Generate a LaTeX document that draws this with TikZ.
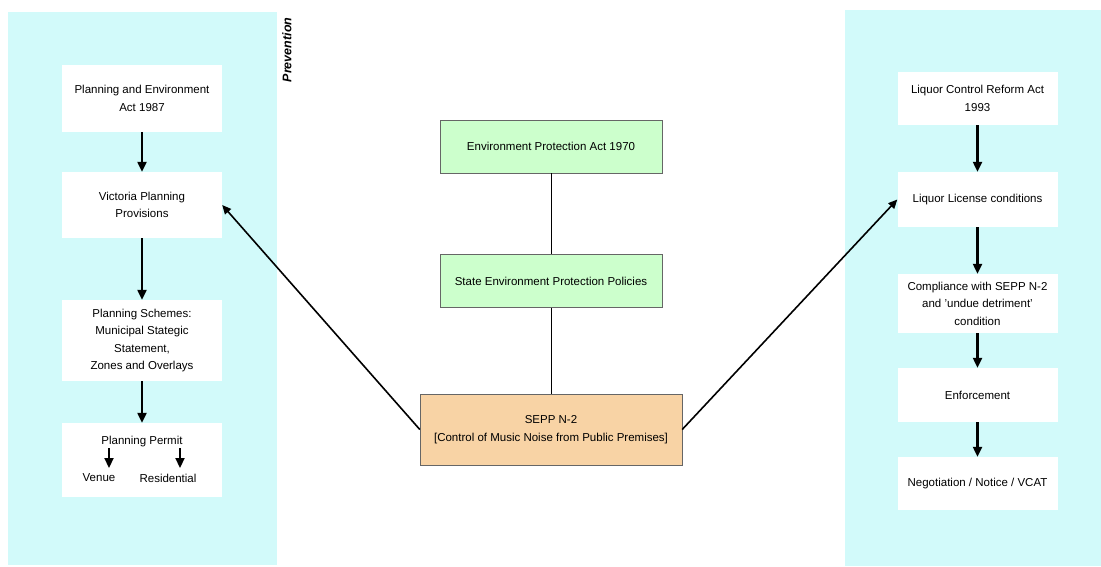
\documentclass[tikz,border=0pt]{standalone}
\usepackage{fontspec}
\setmainfont{Liberation Sans}
\usetikzlibrary{arrows.meta}
\definecolor{panelcyan}{RGB}{210,250,250}
\definecolor{actgreen}{RGB}{204,255,204}
\definecolor{seppnorange}{RGB}{248,211,165}
\begin{document}
\begin{tikzpicture}[x=1pt, y=-1pt, font=\fontsize{11.5}{17.5}\selectfont,
    panel/.style={fill=panelcyan, draw=none},
    stepbox/.style={rectangle, fill=white, minimum width=160pt, align=center, inner sep=0pt},
    actbox/.style={rectangle, draw=black!60, fill=actgreen, minimum width=222pt, minimum height=53pt, align=center},
    flow/.style={-{Triangle[width=9pt,length=10pt]}, line width=2.2pt},
    link/.style={-{Triangle[width=8pt,length=9pt]}, line width=1.6pt}]
    \useasboundingbox (0,0) rectangle (1101,566);

    % side panels
    \fill[panel] (8,12) rectangle (277,565);
    \fill[panel] (845,10) rectangle (1101,566);
    \node[rotate=90, font=\fontsize{12.5}{14}\selectfont\bfseries\itshape] (prev) at (287,50) {Prevention};

    % left column
    \node[stepbox, minimum height=67pt] (pea) at (142,98.5) {Planning and Environment\\Act 1987};
    \node[stepbox, minimum height=66pt] (vpp) at (142,205) {Victoria Planning\\Provisions};
    \node[stepbox, minimum height=81pt] (schemes) at (142,340.5) {Planning Schemes:\\Municipal Stategic\\Statement,\\Zones and Overlays};
    \node[stepbox, minimum height=74pt] (permit) at (142,460) {};
    \node (permittxt) at (142,442) {Planning Permit};
    \node (venue) at (99,478) {Venue};
    \node (resid) at (168,478) {Residential};
    \coordinate (vtop) at (109,448);
    \coordinate (rtop) at (180,448);

    \draw[flow] (pea) -- (vpp);
    \draw[flow] (vpp) -- (schemes);
    \draw[flow] (schemes) -- (permit);
    \draw[flow] (vtop) -- (109,468);
    \draw[flow] (rtop) -- (180,468);

    % centre column
    \node[actbox] (epa) at (551,146.5) {Environment Protection Act 1970};
    \node[actbox] (sepps) at (551,281) {State Environment Protection Policies};
    \node[rectangle, draw=black!60, fill=seppnorange, minimum width=262pt, minimum height=71pt, align=center] (seppn2) at (551,429.5) {SEPP N-2\\{[}Control of Music Noise from Public Premises{]}};

    \draw (epa) -- (sepps);
    \draw (sepps) -- (seppn2);

    % right column
    \node[stepbox, minimum height=53pt] (lcra) at (977.5,98.5) {Liquor Control Reform Act\\1993};
    \node[stepbox, minimum height=55pt] (licence) at (977.5,199.5) {Liquor License conditions};
    \node[stepbox, minimum height=59pt] (comply) at (977.5,303.5) {Compliance with SEPP N-2\\and 'undue detriment'\\condition};
    \node[stepbox, minimum height=54pt] (enforce) at (977.5,395) {Enforcement};
    \node[stepbox, minimum height=53pt] (vcat) at (977.5,483.5) {Negotiation / Notice / VCAT};

    \draw[flow] (lcra) -- (licence);
    \draw[flow] (licence) -- (comply);
    \draw[flow] (comply) -- (enforce);
    \draw[flow] (enforce) -- (vcat);

    % links from SEPP N-2
    \draw[link] (seppn2.west) -- (vpp.east);
    \draw[link] (seppn2.east) -- (licence.west);
\end{tikzpicture}
\end{document}
